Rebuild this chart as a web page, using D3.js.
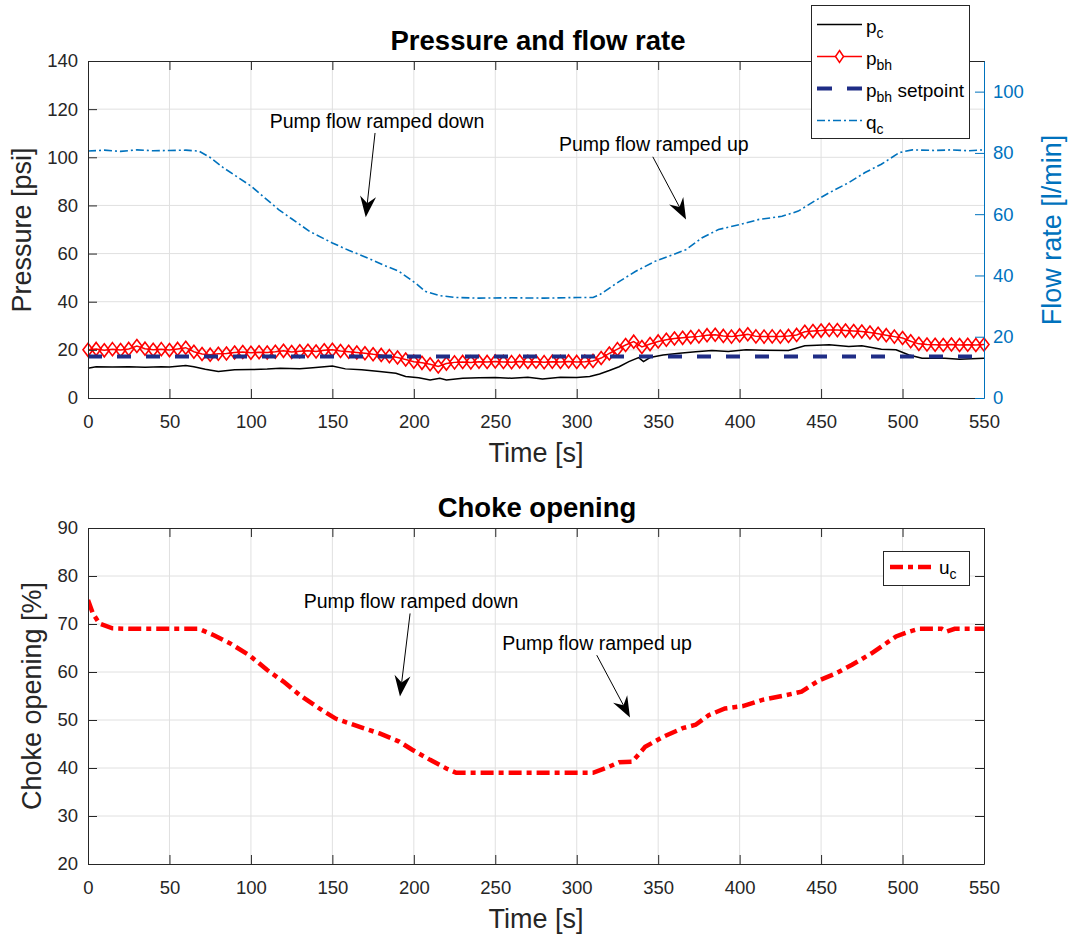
<!DOCTYPE html>
<html>
<head>
<meta charset="utf-8">
<script src="https://cdn.jsdelivr.net/npm/d3@7"></script>
<style>
body { margin: 0; background: #fff; }
svg text { font-family: "Liberation Sans", Arial, Helvetica, sans-serif; fill: #262626; }
</style>
</head>
<body>
<div id="chart"></div>
<script>
// tick values
const timeTicks = [0, 50, 100, 150, 200, 250, 300, 350, 400, 450, 500, 550];
const pressureTicks = [0, 20, 40, 60, 80, 100, 120, 140];
const flowTicks = [0, 20, 40, 60, 80, 100];
const chokeTicks = [20, 30, 40, 50, 60, 70, 80, 90];

// choke pressure p_c [s, psi]
const pcData = [[0,12.4],[5,13],[15,12.9],[25,13],[35,12.8],[45,13],[50,12.9],[60,13.5],[65,13],[72,11.9],[80,11],[90,11.7],[100,11.8],[110,12],[118,12.4],[130,12.2],[138,12.6],[145,13],[150,13.3],[158,12.1],[168,11.7],[179,11],[189,10.3],[195,8.9],[203,8.4],[210,7.5],[216,8.2],[220,7.5],[230,8.2],[240,8.4],[250,8.5],[260,8.2],[270,8.6],[279,7.9],[290,8.6],[300,8.5],[308,8.9],[314,10],[320,11.4],[326,13],[332,15.1],[338,16.8],[341,15.1],[345,16.8],[353,17.9],[363,18.6],[373,19.2],[383,19.7],[393,19.3],[404,20],[415,19.8],[430,19.7],[440,21.7],[455,22.1],[467,21.4],[475,21.7],[487,20.3],[496,20],[504,17.9],[512,16.5],[526,16.5],[535,16.1],[542,16.3],[550,16.5]];

// bottomhole pressure p_bh [s, psi]
const pbhData = [[0,20.0],[5,20.4],[10,19.8],[15,20.3],[20,19.9],[25,20.4],[30,21.6],[35,20.5],[40,20.0],[45,20.3],[50,19.9],[55,20.4],[60,20.9],[65,19.2],[70,18.3],[75,18.0],[80,18.4],[85,18.5],[90,18.9],[95,19.1],[100,18.8],[105,19.0],[110,18.9],[115,19.2],[120,19.6],[125,19.1],[130,19.4],[135,19.6],[140,19.3],[145,19.8],[150,20.0],[155,19.5],[160,19.2],[165,18.9],[170,18.6],[175,18.2],[180,17.9],[185,17.4],[190,16.8],[195,16.0],[200,15.1],[205,14.6],[210,14.0],[215,13.1],[220,14.3],[225,14.8],[230,15.0],[235,14.8],[240,15.1],[245,15.0],[250,15.2],[255,15.0],[260,14.9],[265,15.2],[270,15.0],[275,15.1],[280,14.9],[285,15.1],[290,15.0],[295,15.2],[300,15.0],[305,15.1],[310,15.4],[315,16.6],[320,18.5],[325,20.3],[330,22.0],[335,23.4],[340,21.2],[345,22.4],[350,23.5],[355,24.2],[360,24.7],[365,25.0],[370,25.3],[375,25.6],[380,26.1],[385,26.3],[390,25.8],[395,25.5],[400,26.0],[405,26.5],[410,25.6],[415,25.5],[420,25.6],[425,25.5],[430,25.8],[435,26.2],[440,27.5],[445,27.8],[450,28.0],[455,28.3],[460,28.2],[465,28.0],[470,27.8],[475,27.6],[480,27.2],[485,26.7],[490,26.1],[495,25.5],[500,24.9],[505,23.6],[510,22.5],[515,22.2],[520,22.1],[525,22.0],[530,22.2],[535,22.0],[540,22.1],[545,22.0],[550,22.2]];

// p_bh setpoint [s, psi]
const setpointData = [[0,17.2],[550,17.2]];

// pump flow q_c [s, l/min]
const qcData = [[0,80.6],[10,80.9],[20,80.5],[30,81],[40,80.7],[50,80.8],[60,80.9],[68,80.6],[75,78.5],[83,75.2],[100,69.2],[117,61.5],[125,58.5],[136,54.4],[150,50.6],[160,48.2],[169,46.3],[181,43.5],[191,41.3],[201,37.5],[207,34.8],[216,33.4],[226,32.8],[240,32.6],[260,32.7],[280,32.6],[300,32.8],[310,32.8],[314,33.7],[326,38],[336,41.3],[348,44.6],[359,46.8],[367,48.4],[377,52.3],[387,55],[400,56.6],[412,58.3],[426,59.3],[436,61],[446,64.3],[455,67],[467,70.3],[477,73.6],[487,76.3],[498,80.1],[506,81],[520,80.8],[530,81],[540,80.7],[550,81]];

// choke opening u_c [s, %]
const ucData = [[0,75],[3,72.2],[7,70.1],[15,69.1],[25,69],[68,69],[77,67.7],[87,66],[99,63.5],[110,60.4],[120,58],[130,55.2],[142,52.4],[152,50.3],[169,48.3],[179,47.2],[191,45.5],[199,43.8],[210,41.7],[220,39.9],[226,39],[310,39],[318,40],[326,41.2],[334,41.3],[342,44.4],[353,46.5],[365,48.3],[373,49],[381,51],[391,52.4],[402,52.9],[414,54.2],[426,55],[438,55.9],[449,58.3],[459,59.7],[469,61.5],[481,63.9],[487,65.3],[496,67.4],[504,68.4],[510,69],[524,69],[527,68.4],[532,69],[550,69]];

// annotations: text anchor and arrow from/to, in data units
const topNotes = [
	{ text: "Pump flow ramped down", tx: 177.4, ty: 112.2, x1: 176.2, y1: 110.1, x2: 170.5, y2: 75.1 },
	{ text: "Pump flow ramped up", tx: 347.3, ty: 102.6, x1: 346.7, y1: 100.2, x2: 367.1, y2: 74.2 }
];
const bottomNotes = [
	{ text: "Pump flow ramped down", tx: 198.3, ty: 73.3, x1: 197.7, y1: 72.2, x2: 191.5, y2: 54.9 },
	{ text: "Pump flow ramped up", tx: 312.5, ty: 64.6, x1: 312.3, y1: 63.5, x2: 332.7, y2: 50.5 }
];

const width = 1079;
const height = 939;
const axisColor = "#262626";
const gridColor = "#e0e0e0";
const blue = "#0072BD";
const red = "#ff0000";
const navy = "#1f2d86";

const svg = d3.select("#chart")
	.append("svg")
	.attr("width", width)
	.attr("height", height);

svg.append("rect").attr("width", width).attr("height", height).attr("fill", "#fff");

const x = d3.scaleLinear().domain([0, 550]).range([88, 984]);
const yP = d3.scaleLinear().domain([0, 140]).range([398, 61]);
const yQ = d3.scaleLinear().domain([0, 110]).range([398, 61]);
const yU = d3.scaleLinear().domain([20, 90]).range([864, 528]);

function styleAxis(g, color) {
	g.select(".domain").attr("stroke", color).attr("stroke-width", 1);
	g.selectAll(".tick line").attr("stroke", color);
	g.selectAll(".tick text")
		.attr("font-size", "18.5px")
		.style("fill", color);
}

function grid(yScale, yTicks) {
	const g = svg.append("g");
	g.selectAll(".vg")
		.data(timeTicks.slice(1, -1))
		.enter()
		.append("line")
		.attr("x1", (d) => x(d)).attr("x2", (d) => x(d))
		.attr("y1", yScale.range()[0]).attr("y2", yScale.range()[1])
		.attr("stroke", gridColor);
	g.selectAll(".hg")
		.data(yTicks.slice(1, -1))
		.enter()
		.append("line")
		.attr("x1", 88).attr("x2", 984)
		.attr("y1", (d) => yScale(d)).attr("y2", (d) => yScale(d))
		.attr("stroke", gridColor);
}

function arrow(n, yScale) {
	const ax = x(n.x1), ay = yScale(n.y1), bx = x(n.x2), by = yScale(n.y2);
	const ang = Math.atan2(by - ay, bx - ax);
	const len = 21, half = 8, notch = 7;
	const ux = Math.cos(ang), uy = Math.sin(ang);
	const px = -uy, py = ux;
	const base = [bx - ux * len, by - uy * len];
	const back = [bx - ux * (len - notch), by - uy * (len - notch)];
	svg.append("line")
		.attr("x1", ax).attr("y1", ay)
		.attr("x2", back[0]).attr("y2", back[1])
		.attr("stroke", "#000").attr("stroke-width", 1);
	svg.append("path")
		.attr("d", "M" + bx + "," + by +
			"L" + (base[0] + px * half) + "," + (base[1] + py * half) +
			"L" + back[0] + "," + back[1] +
			"L" + (base[0] - px * half) + "," + (base[1] - py * half) + "Z")
		.attr("fill", "#000");
	svg.append("text")
		.attr("x", x(n.tx)).attr("y", yScale(n.ty))
		.attr("text-anchor", "middle")
		.attr("font-size", "19.5px")
		.style("fill", "#000")
		.text(n.text);
}

// ---------- top: pressure and flow rate ----------
grid(yP, pressureTicks);

const clipTop = svg.append("clipPath").attr("id", "clipTop")
	.append("rect").attr("x", 80).attr("y", 61).attr("width", 910).attr("height", 337);

const lineP = d3.line().x((d) => x(d[0])).y((d) => yP(d[1]));
const lineQ = d3.line().x((d) => x(d[0])).y((d) => yQ(d[1]));
const lineU = d3.line().x((d) => x(d[0])).y((d) => yU(d[1]));

const plotTop = svg.append("g").attr("clip-path", "url(#clipTop)");

plotTop.append("path")
	.attr("d", lineP(pcData))
	.attr("fill", "none").attr("stroke", "#000").attr("stroke-width", 1.5);

plotTop.append("path")
	.attr("d", lineP(pbhData))
	.attr("fill", "none").attr("stroke", red).attr("stroke-width", 1.5);

const diamond = "M0,-6.5L5,0L0,6.5L-5,0Z";
plotTop.append("g")
	.selectAll("path")
	.data(pbhData)
	.enter()
	.append("path")
	.attr("d", diamond)
	.attr("transform", (d) => "translate(" + x(d[0]) + "," + yP(d[1]) + ")")
	.attr("fill", "none").attr("stroke", red).attr("stroke-width", 1.6);

plotTop.append("path")
	.attr("d", lineP(setpointData))
	.attr("fill", "none").attr("stroke", navy).attr("stroke-width", 4)
	.attr("stroke-dasharray", "14,15");

plotTop.append("path")
	.attr("d", lineQ(qcData))
	.attr("fill", "none").attr("stroke", blue).attr("stroke-width", 1.6)
	.attr("stroke-dasharray", "8,3,2,3");

// axes
svg.append("g")
	.attr("transform", "translate(0,398)")
	.call(d3.axisBottom(x).tickValues(timeTicks).tickSizeInner(-9).tickSizeOuter(0).tickPadding(17))
	.call((g) => styleAxis(g, axisColor));
svg.append("g")
	.attr("transform", "translate(0,61)")
	.call(d3.axisTop(x).tickValues(timeTicks).tickSizeInner(-9).tickSizeOuter(0).tickFormat(""))
	.call((g) => styleAxis(g, axisColor));
svg.append("g")
	.attr("transform", "translate(88,0)")
	.call(d3.axisLeft(yP).tickValues(pressureTicks).tickSizeInner(-9).tickSizeOuter(0).tickPadding(10))
	.call((g) => styleAxis(g, axisColor));
svg.append("g")
	.attr("transform", "translate(984,0)")
	.call(d3.axisRight(yQ).tickValues(flowTicks).tickSizeInner(-9).tickSizeOuter(0).tickPadding(9))
	.call((g) => styleAxis(g, blue));

topNotes.forEach((n) => arrow(n, yP));

svg.append("text")
	.attr("x", 538).attr("y", 50)
	.attr("text-anchor", "middle").attr("font-size", "27.5px").attr("font-weight", "bold")
	.style("fill", "#000")
	.text("Pressure and flow rate");
svg.append("text")
	.attr("x", 536).attr("y", 462)
	.attr("text-anchor", "middle").attr("font-size", "27px")
	.text("Time [s]");
svg.append("text")
	.attr("transform", "translate(31,230) rotate(-90)")
	.attr("text-anchor", "middle").attr("font-size", "27px")
	.text("Pressure [psi]");
svg.append("text")
	.attr("transform", "translate(1061,230) rotate(-90)")
	.attr("text-anchor", "middle").attr("font-size", "27px")
	.style("fill", blue)
	.text("Flow rate [l/min]");

// legend
const legend = svg.append("g");
legend.append("rect")
	.attr("x", 811.5).attr("y", 5.5).attr("width", 158).attr("height", 133)
	.attr("fill", "#fff").attr("stroke", axisColor);

const legendItems = [
	{ name: "p", sub: "c", extra: "", y: 24.5, stroke: "#000", w: 1.5, dash: null },
	{ name: "p", sub: "bh", extra: "", y: 56.5, stroke: red, w: 1.5, dash: null, marker: true },
	{ name: "p", sub: "bh", extra: " setpoint", y: 88.5, stroke: navy, w: 4, dash: "15,15" },
	{ name: "q", sub: "c", extra: "", y: 120.5, stroke: blue, w: 1.6, dash: "8,3,2,3" }
];
legendItems.forEach((d) => {
	legend.append("line")
		.attr("x1", 817).attr("x2", 862).attr("y1", d.y).attr("y2", d.y)
		.attr("stroke", d.stroke).attr("stroke-width", d.w)
		.attr("stroke-dasharray", d.dash);
	if (d.marker) {
		legend.append("path").attr("d", "M0,-6L4,0L0,6L-4,0Z")
			.attr("transform", "translate(839.5," + d.y + ")")
			.attr("fill", "#fff").attr("stroke", red).attr("stroke-width", 1.5);
	}
	const t = legend.append("text")
		.attr("x", 866).attr("y", d.y + 8)
		.attr("font-size", "19px").style("fill", "#000");
	t.append("tspan").text(d.name);
	t.append("tspan").attr("dy", 5).attr("font-size", "14px").text(d.sub);
	if (d.extra) t.append("tspan").attr("dy", -5).attr("font-size", "19px").text(d.extra);
});

// ---------- bottom: choke opening ----------
grid(yU, chokeTicks);

const clipBottom = svg.append("clipPath").attr("id", "clipBottom")
	.append("rect").attr("x", 88).attr("y", 528).attr("width", 896).attr("height", 336);

svg.append("g").attr("clip-path", "url(#clipBottom)")
	.append("path")
	.attr("d", lineU(ucData))
	.attr("fill", "none").attr("stroke", red).attr("stroke-width", 4.5)
	.attr("stroke-dasharray", "13,5,5,5");

svg.append("g")
	.attr("transform", "translate(0,864)")
	.call(d3.axisBottom(x).tickValues(timeTicks).tickSizeInner(-9).tickSizeOuter(0).tickPadding(17))
	.call((g) => styleAxis(g, axisColor));
svg.append("g")
	.attr("transform", "translate(0,528)")
	.call(d3.axisTop(x).tickValues(timeTicks).tickSizeInner(-9).tickSizeOuter(0).tickFormat(""))
	.call((g) => styleAxis(g, axisColor));
svg.append("g")
	.attr("transform", "translate(88,0)")
	.call(d3.axisLeft(yU).tickValues(chokeTicks).tickSizeInner(-9).tickSizeOuter(0).tickPadding(10))
	.call((g) => styleAxis(g, axisColor));
svg.append("g")
	.attr("transform", "translate(984,0)")
	.call(d3.axisRight(yU).tickValues(chokeTicks).tickSizeInner(-9).tickSizeOuter(0).tickFormat(""))
	.call((g) => styleAxis(g, axisColor));

bottomNotes.forEach((n) => arrow(n, yU));

svg.append("text")
	.attr("x", 537).attr("y", 517)
	.attr("text-anchor", "middle").attr("font-size", "27.5px").attr("font-weight", "bold")
	.style("fill", "#000")
	.text("Choke opening");
svg.append("text")
	.attr("x", 536).attr("y", 928)
	.attr("text-anchor", "middle").attr("font-size", "27px")
	.text("Time [s]");
svg.append("text")
	.attr("transform", "translate(41,696) rotate(-90)")
	.attr("text-anchor", "middle").attr("font-size", "27px")
	.text("Choke opening [%]");

const legendU = svg.append("g");
legendU.append("rect")
	.attr("x", 883.5).attr("y", 551.5).attr("width", 86).attr("height", 34)
	.attr("fill", "#fff").attr("stroke", axisColor);
legendU.append("line")
	.attr("x1", 890).attr("x2", 933).attr("y1", 567).attr("y2", 567)
	.attr("stroke", red).attr("stroke-width", 4.5).attr("stroke-dasharray", "13,5,5,5");
const tu = legendU.append("text")
	.attr("x", 939).attr("y", 574)
	.attr("font-size", "19px").style("fill", "#000");
tu.append("tspan").text("u");
tu.append("tspan").attr("dy", 5).attr("font-size", "14px").text("c");
</script>
</body>
</html>
